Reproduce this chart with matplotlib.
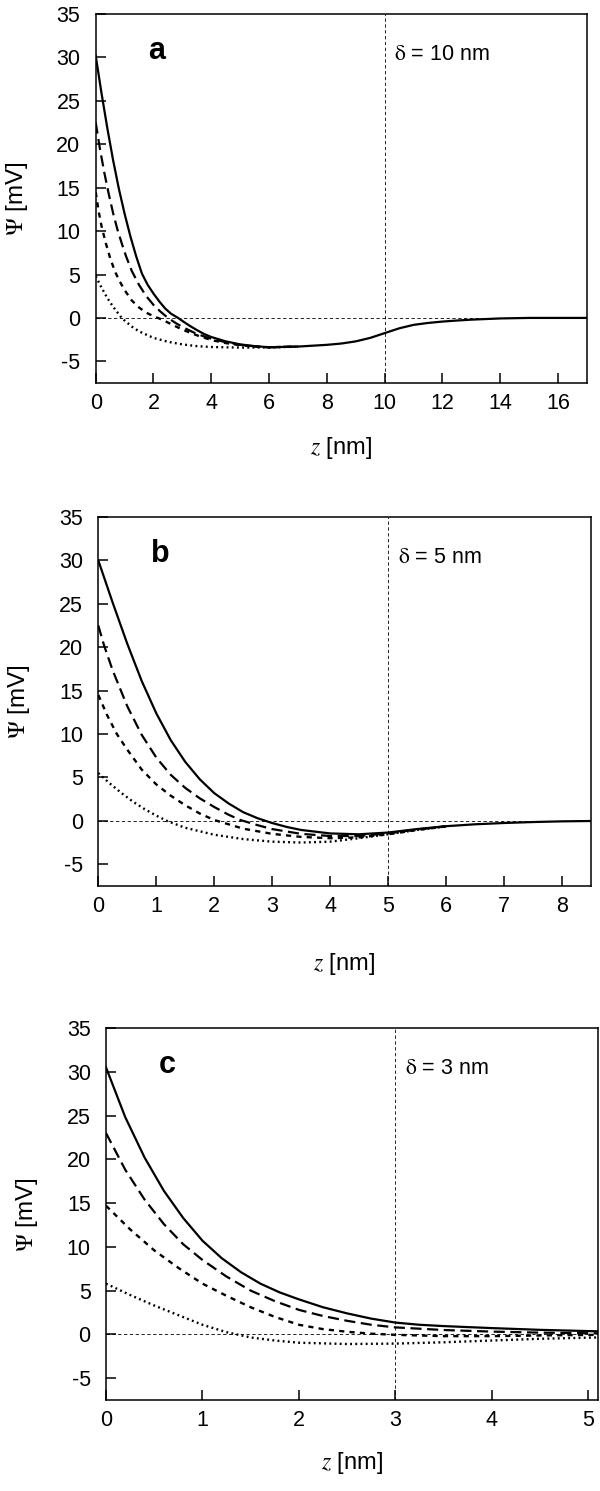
"""Potential profiles Psi(z) for three layer thicknesses (panels a-c)."""

import matplotlib

matplotlib.use("Agg")
import matplotlib.pyplot as plt

plt.rcParams["font.family"] = ["Liberation Sans", "DejaVu Sans"]
plt.rcParams["mathtext.fontset"] = "stix"
plt.rcParams["axes.unicode_minus"] = False

# panel a, delta = 10 nm
A_Z_SOLID = [0, 0.2, 0.4, 0.6, 0.8, 1.0, 1.2, 1.4, 1.6, 1.8, 2.0, 2.2, 2.4, 2.6, 2.85, 3.0,
             3.25, 3.5, 3.75, 4.0, 4.5, 5.0, 5.5, 6.0, 7.0, 8.0, 8.5, 9.0, 9.5, 10.0,
             10.5, 11.0, 11.5, 12.0, 12.5, 13.0, 14.0, 15.0, 17.0]
A_SOLID = [30.2, 25.9, 21.9, 18.2, 14.9, 12.0, 9.4, 7.1, 5.1, 3.8, 2.8, 1.9, 1.1, 0.5, 0.0, -0.35,
           -0.9, -1.4, -1.85, -2.2, -2.7, -3.05, -3.25, -3.38, -3.3, -3.1, -2.95, -2.7, -2.3, -1.75,
           -1.2, -0.8, -0.58, -0.42, -0.3, -0.2, -0.06, 0.0, 0.0]
A_Z_DASH = [0, 0.15, 0.3, 0.45, 0.6, 0.75, 0.9, 1.05, 1.25, 1.5, 1.75, 2.0, 2.25, 2.5, 2.75,
            3.0, 3.5, 4.0, 4.5, 5.0, 5.5, 6.0, 7.0]
A_DASH = [22.5, 19.4, 16.7, 14.3, 12.1, 10.2, 8.6, 7.1, 5.4, 3.8, 2.5, 1.5, 0.7, 0.0, -0.55,
          -1.05, -1.85, -2.4, -2.8, -3.1, -3.28, -3.38, -3.3]
A_Z_SHORT = [0, 0.1, 0.2, 0.35, 0.5, 0.66, 0.8, 1.0, 1.25, 1.5, 1.75, 2.0, 2.3, 2.6, 3.0,
             3.5, 4.0, 4.5, 5.0, 5.5, 6.0, 7.0]
A_SHORT = [14.5, 12.3, 10.6, 8.6, 6.9, 5.4, 4.4, 3.2, 2.0, 1.2, 0.6, 0.2, -0.2, -0.7, -1.35,
           -2.0, -2.55, -2.9, -3.15, -3.3, -3.38, -3.3]
A_Z_DOT = [0, 0.2, 0.4, 0.6, 0.85, 1.0, 1.25, 1.5, 2.0, 2.5, 3.0, 3.5, 4.0, 5.0, 6.0, 7.0]
A_DOT = [4.8, 3.5, 2.3, 1.3, 0.2, -0.3, -1.0, -1.55, -2.3, -2.75, -3.05, -3.25, -3.35, -3.42, -3.4, -3.3]

# panel b, delta = 5 nm
B_Z_SOLID = [0, 0.25, 0.5, 0.75, 1.0, 1.25, 1.5, 1.75, 2.0, 2.25, 2.5, 2.75, 3.0, 3.25, 3.5,
             4.0, 4.5, 5.0, 5.5, 6.0, 6.5, 7.0, 7.5, 8.0, 8.5]
B_SOLID = [30.0, 25.1, 20.4, 16.1, 12.4, 9.3, 6.8, 4.8, 3.2, 2.0, 1.0, 0.3, -0.25, -0.7, -1.05,
           -1.45, -1.55, -1.35, -0.95, -0.62, -0.4, -0.25, -0.14, -0.06, -0.02]
B_Z_DASH = [0, 0.1, 0.25, 0.5, 0.75, 1.0, 1.25, 1.5, 1.75, 2.0, 2.25, 2.45, 2.75, 3.0, 3.5,
            4.0, 4.5, 5.0, 5.5, 6.0]
B_DASH = [22.5, 20.2, 17.3, 13.2, 9.9, 7.3, 5.3, 3.8, 2.6, 1.6, 0.7, 0.1, -0.5, -0.95, -1.5,
          -1.75, -1.75, -1.45, -1.0, -0.63]
B_Z_SHORT = [0, 0.15, 0.32, 0.5, 0.75, 1.0, 1.25, 1.5, 1.75, 2.0, 2.5, 3.0, 3.5, 4.0, 4.5,
             5.0, 5.5, 6.0]
B_SHORT = [14.5, 12.2, 10.0, 8.2, 5.9, 4.2, 2.9, 1.8, 0.85, 0.1, -0.9, -1.5, -1.85, -2.0, -1.9,
           -1.55, -1.05, -0.65]
B_Z_DOT = [0, 0.2, 0.4, 0.6, 0.8, 1.0, 1.2, 1.5, 2.0, 2.5, 3.0, 3.5, 4.0, 4.5, 5.0, 5.5, 6.0]
B_DOT = [5.5, 4.3, 3.2, 2.2, 1.35, 0.6, -0.05, -0.8, -1.6, -2.1, -2.4, -2.5, -2.4, -2.0, -1.55,
         -1.05, -0.65]

# panel c, delta = 3 nm
C_Z_SOLID = [0, 0.2, 0.4, 0.6, 0.8, 1.0, 1.2, 1.4, 1.6, 1.8, 2.0, 2.25, 2.5, 2.75, 3.0, 3.25,
             3.5, 4.0, 4.5, 5.1]
C_SOLID = [30.5, 24.8, 20.2, 16.4, 13.3, 10.7, 8.7, 7.1, 5.8, 4.8, 4.0, 3.1, 2.4, 1.8, 1.35,
           1.1, 0.95, 0.72, 0.52, 0.35]
C_Z_DASH = [0, 0.2, 0.4, 0.6, 0.8, 1.0, 1.25, 1.5, 1.75, 2.0, 2.25, 2.5, 2.75, 3.0, 3.5, 4.0,
            4.5, 5.1]
C_DASH = [23.0, 18.8, 15.4, 12.6, 10.3, 8.5, 6.6, 5.0, 3.8, 2.8, 2.1, 1.55, 1.1, 0.8, 0.5,
          0.32, 0.2, 0.12]
C_Z_SHORT = [0, 0.25, 0.5, 0.75, 1.0, 1.25, 1.5, 1.75, 2.0, 2.25, 2.5, 2.75, 3.0, 3.5, 4.0,
             4.5, 5.1]
C_SHORT = [14.7, 12.0, 9.6, 7.6, 5.8, 4.4, 3.1, 2.0, 1.1, 0.6, 0.3, 0.08, -0.05, -0.2, -0.2,
           -0.12, -0.05]
C_Z_DOT = [0, 0.25, 0.5, 0.75, 1.0, 1.25, 1.5, 1.75, 2.0, 2.5, 3.0, 3.5, 4.0, 4.5, 5.1]
C_DOT = [5.8, 4.5, 3.3, 2.2, 1.1, 0.25, -0.35, -0.7, -0.95, -1.1, -1.05, -0.9, -0.7, -0.5, -0.35]

PANEL_LETTERS = ["a", "b", "c"]
DELTAS = [10, 5, 3]
XMAX = [17, 8.5, 5.1]
XTICKS = [range(0, 17, 2), range(0, 9), range(0, 6)]
YTICKS = list(range(-5, 36, 5))

STYLES = [
    dict(linestyle="-", linewidth=1.6),
    dict(linestyle=(0, (5, 2.5)), linewidth=1.6),
    dict(linestyle=(0, (2.2, 2.2)), linewidth=1.7),
    dict(linestyle=(0, (0.8, 1.4)), linewidth=1.7),
]

panels = [
    [(A_Z_SOLID, A_SOLID), (A_Z_DASH, A_DASH), (A_Z_SHORT, A_SHORT), (A_Z_DOT, A_DOT)],
    [(B_Z_SOLID, B_SOLID), (B_Z_DASH, B_DASH), (B_Z_SHORT, B_SHORT), (B_Z_DOT, B_DOT)],
    [(C_Z_SOLID, C_SOLID), (C_Z_DASH, C_DASH), (C_Z_SHORT, C_SHORT), (C_Z_DOT, C_DOT)],
]
# axes rectangles in figure fractions (left, bottom, width, height)
rects = [
    (0.1595, 0.7431, 0.8188, 0.2475),
    (0.1638, 0.4058, 0.8207, 0.2475),
    (0.1767, 0.0610, 0.8200, 0.2495),
]
xlabel_pads = [15, 25, 14]

fig = plt.figure(figsize=(6, 14.91), dpi=100)

for i, curves in enumerate(panels):
    ax = fig.add_axes(rects[i])
    # reference lines: zero level and layer boundary
    ax.axhline(0, color="black", linewidth=0.6, linestyle=(0, (4, 3)), zorder=1)
    ax.axvline(DELTAS[i], color="black", linewidth=0.6, linestyle=(0, (4, 3)), zorder=1)

    for (z, psi), style in zip(curves, STYLES):
        ax.plot(z, psi, color="black", zorder=3, **style)

    ax.set_xlim(0, XMAX[i])
    ax.set_ylim(-7.5, 35)
    ax.set_xticks(list(XTICKS[i]))
    ax.set_yticks(YTICKS)
    ax.tick_params(direction="in", length=7, width=1.1, labelsize=15.5,
                   top=False, right=False)
    ax.tick_params(axis="y", pad=11)
    ax.tick_params(axis="x", pad=7)
    for spine in ax.spines.values():
        spine.set_linewidth(1.1)

    ax.set_ylabel(r"$\Psi$ [mV]", fontsize=17.5, labelpad=19)
    ax.set_xlabel(r"$z$ [nm]", fontsize=17, labelpad=xlabel_pads[i])

    ax.text(0.125, 0.9, PANEL_LETTERS[i], transform=ax.transAxes, fontsize=22,
            fontweight="bold", ha="center", va="center")
    ax.annotate(rf"$\mathrm{{\delta}}$ = {DELTAS[i]} nm", xy=(DELTAS[i], 1),
                xycoords=("data", "axes fraction"), xytext=(7, -29),
                textcoords="offset points", fontsize=15.5, ha="left", va="center")

fig.savefig("out.png", dpi=100)
